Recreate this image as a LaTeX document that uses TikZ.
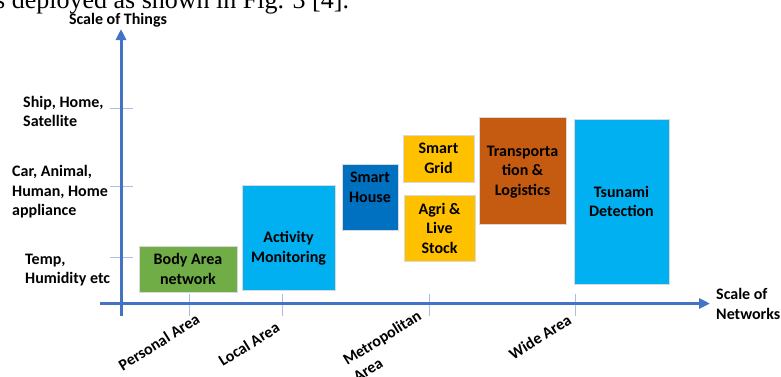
\documentclass[tikz,border=0pt]{standalone}
\usepackage{fontspec}
\setmainfont{Carlito}
\newfontfamily\bodyserif{Liberation Serif}
\usetikzlibrary{arrows.meta}

\definecolor{axisblue}{HTML}{4472C4}
\definecolor{tickblue}{HTML}{A9BEE6}
\definecolor{bangreen}{HTML}{70AD47}
\definecolor{skycyan}{HTML}{00B0F0}
\definecolor{deepblue}{HTML}{0070C0}
\definecolor{gold}{HTML}{FFC000}
\definecolor{rust}{HTML}{C55A11}

\tikzset{
  txt/.style={inner sep=0pt, font=\bfseries\fontsize{16}{19.5}\selectfont, text=black},
  ctxt/.style={txt, align=center},
  ltxt/.style={txt, align=left, anchor=west},
  xlbl/.style={txt, align=left, rotate=32},
  appbox/.style={draw=white!85!black, line width=0.4pt, inner sep=0pt},
  axis/.style={draw=axisblue, line width=3pt, -{Triangle[width=10pt,length=11pt]}},
  tick/.style={draw=tickblue, line width=1pt},
}

\begin{document}
\begin{tikzpicture}[x=1pt, y=-1pt]
  \useasboundingbox (0,0) rectangle (781,376);
  \clip (0,0) rectangle (781,376);

  % running text of the page above the figure
  \node[inner sep=0pt, anchor=base west, font=\bodyserif\fontsize{26}{30}\selectfont]
    (caption) at (-5,8) {s deployed as shown in Fig. 3 [4].};

  % tick marks
  \foreach \y/\n in {108/ty1, 186/ty2, 257/ty3}
    \draw[tick] (110,\y) coordinate (\n a) -- (133,\y) coordinate (\n b);
  \foreach \x/\n in {189/tx1, 282/tx2, 429/tx3, 575/tx4}
    \draw[tick] (\x,294) coordinate (\n a) -- (\x,316) coordinate (\n b);

  % axes
  \coordinate (ybot) at (121,316);
  \coordinate (ytop) at (121,29);
  \coordinate (xleft) at (100,303.5);
  \coordinate (xright) at (710,303.5);
  \draw[axis] (ybot) -- (ytop);
  \draw[axis] (xleft) -- (xright);

  % axis titles
  \node[ctxt] (ytitle) at (118,20) {Scale of Things};
  \node[ltxt] (xtitle) at (716,304) {Scale of\\Networks};

  % scale of things
  \node[ltxt] (ship) at (23,111.5) {Ship, Home,\\Satellite};
  \node[ltxt] (car) at (12,192) {Car, Animal,\\Human, Home\\appliance};
  \node[ltxt] (temp) at (25,270) {Temp,\\Humidity etc};

  % scale of networks
  \node[xlbl] (pan) at (159,342) {Personal Area};
  \node[xlbl] (lan) at (249,344) {Local Area};
  \node[xlbl] (man) at (387,346) {Metropolitan\\Area};
  \node[xlbl] (wan) at (540,337) {Wide Area};

  % application boxes
  \node[appbox, fill=bangreen, minimum width=98pt, minimum height=46pt] (ban) at (188,269) {};
  \node[ctxt] (bant) at (ban.center) {Body Area\\network};

  \node[appbox, fill=skycyan, minimum width=93pt, minimum height=105pt] (act) at (288.5,237.5) {};
  \node[ctxt] (actt) at ([yshift=-10.5pt]act.center) {Activity\\Monitoring};

  \node[appbox, fill=deepblue, minimum width=56pt, minimum height=66pt] (house) at (370,197) {};
  \node[ctxt] (houset) at ([yshift=9.5pt]house.center) {Smart\\House};

  \node[appbox, fill=gold, minimum width=71pt, minimum height=47pt] (grid) at (438.5,158.5) {};
  \node[ctxt] (gridt) at (grid.center) {Smart\\Grid};

  \node[appbox, fill=gold, minimum width=71pt, minimum height=66pt] (agri) at (439.5,228) {};
  \node[ctxt] (agrit) at (agri.center) {Agri \&\\Live\\Stock};

  \node[appbox, fill=rust, minimum width=87pt, minimum height=107pt] (trans) at (522.5,170.5) {};
  \node[ctxt] (transt) at ([yshift=-1.5pt]trans.center) {Transporta\\tion \&\\Logistics};

  \node[appbox, fill=skycyan, minimum width=95pt, minimum height=165pt] (tsu) at (621.5,201.5) {};
  \node[ctxt] (tsut) at (tsu.center) {Tsunami\\Detection};
\end{tikzpicture}
\end{document}
